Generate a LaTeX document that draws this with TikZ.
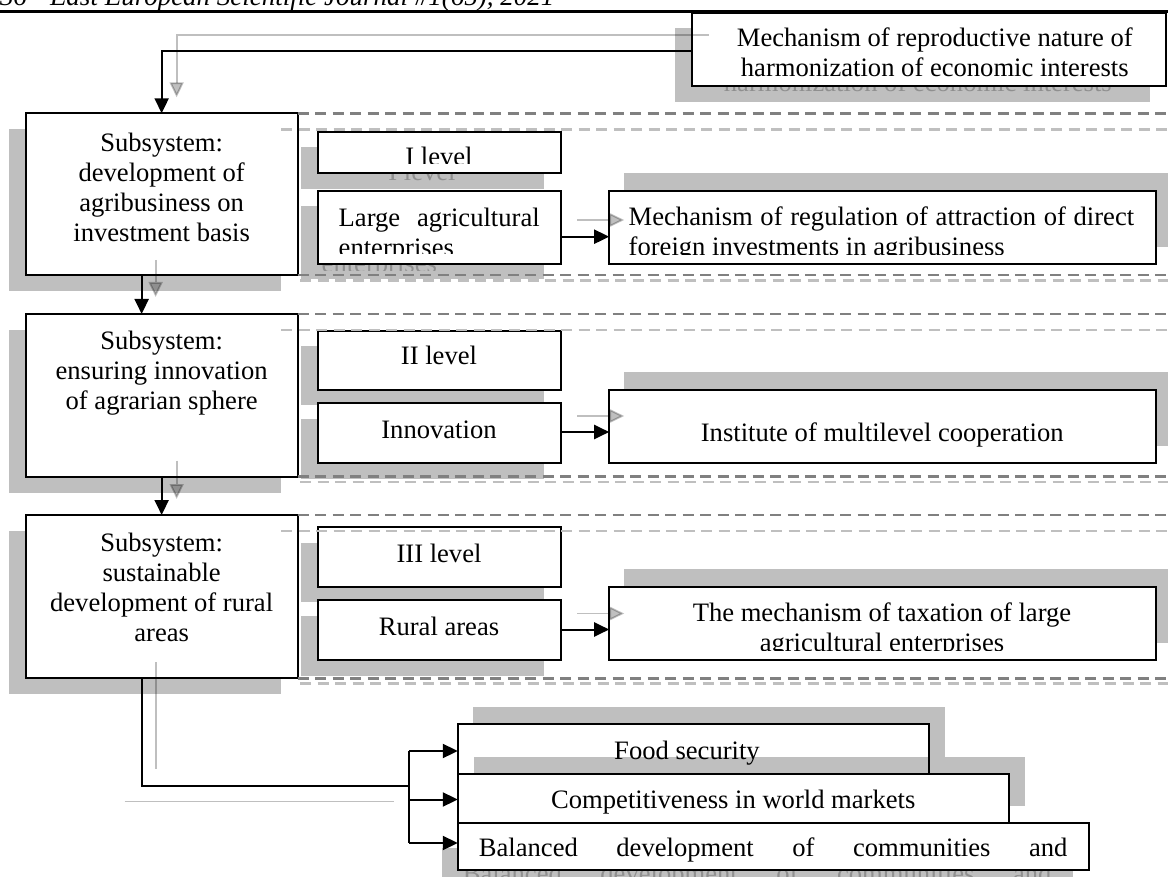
\documentclass[tikz,border=0pt]{standalone}
\usepackage{fontspec}
\setmainfont{Liberation Serif}
\usetikzlibrary{arrows.meta,calc}

\begin{document}
\begin{tikzpicture}[x=1pt,y=-1pt,
  every node/.style={inner sep=0pt, outer sep=0pt},
  box/.style={rectangle, draw=black, line width=2pt, fill=white, anchor=north west},
  shade/.style={fill=black, fill opacity=0.25},
  txt/.style={anchor=base, font=\fontsize{26.6}{30}\selectfont},
  ghosttxt/.style={txt, text opacity=0.25},
  hdr/.style={anchor=base west, font=\fontsize{27}{30}\selectfont\itshape},
  link/.style={draw=black, line width=2pt},
  linkghost/.style={draw=black, line width=1.8pt, opacity=0.25},
  tip/.style={-{Triangle[length=15pt,width=14pt]}},
  dashdark/.style={draw=black!50, line width=2.5pt, dash pattern=on 11pt off 6.5pt},
  dashlight/.style={draw=black!25, line width=2.5pt, dash pattern=on 11pt off 6.5pt},
]
\useasboundingbox (0,0) rectangle (1168,877);
\begin{scope}
\clip (0,0) rectangle (1168,877);

% running head
\node[hdr] (pageno) at (0,5.5) {36};
\node[hdr] (journal) at (50,5.5) {East European Scientific Journal \#1(65), 2021};
\draw[line width=2.5pt] (0,11.7) -- (1168,11.7);

% ---- top right: mechanism box
\fill[shade] (675.4,28.3) rectangle (1150,101.7);
\begin{scope}\clip (675.4,28.3) rectangle (1150,92.7);
  \node[ghosttxt] (trghost) at (917.8,91.7) {harmonization of economic interests};
\end{scope}
\node[box, minimum width=473.6, minimum height=72.4] (tr) at (692.4,13.3) {};
\begin{scope}\clip (692.4,13.3) rectangle (1166,76.5);
  \node[txt] (trtext) at (934.8,46.7) {\parbox[t]{460pt}{\centering Mechanism of reproductive nature of\\harmonization of economic interests}};
\end{scope}

% ---- subsystems
\fill[shade] (8.6,129.3) rectangle (280.7,291);
\node[box, minimum width=272.1, minimum height=161.7] (s1) at (25.6,113.3) {};
\node[txt] (s1text) at (161.65,151.7) {\parbox[t]{260pt}{\centering Subsystem:\\development of\\agribusiness on\\investment basis}};

\fill[shade] (8.6,330) rectangle (280.7,492.7);
\node[box, minimum width=272.1, minimum height=162.7] (s2) at (25.6,314) {};
\node[txt] (s2text) at (161.65,350) {\parbox[t]{260pt}{\centering Subsystem:\\ensuring innovation\\of agrarian sphere}};

\fill[shade] (8.6,531) rectangle (280.7,694.3);
\node[box, minimum width=272.1, minimum height=163.3] (s3) at (25.6,515) {};
\node[txt] (s3text) at (161.65,551.7) {\parbox[t]{260pt}{\centering Subsystem:\\sustainable\\development of rural\\areas}};

% ---- level boxes
\fill[shade] (300.6,147.2) rectangle (543.6,188.8);
\begin{scope}\clip (300.6,147.2) rectangle (543.6,181);
  \node[ghosttxt] (l1aghost) at (422,181) {I level};
\end{scope}
\node[box, minimum width=243, minimum height=41.6] (l1a) at (317.6,131.7) {};
\begin{scope}\clip (317.6,131.7) rectangle (560.6,163.8);
  \node[txt] (l1atext) at (439,165.5) {I level};
\end{scope}

\fill[shade] (300.6,206.2) rectangle (543.6,279.5);
\begin{scope}\clip (300.6,206.2) rectangle (543.6,271);
  \node[ghosttxt, anchor=base west] (l1bghost) at (321.7,272.2) {enterprises};
\end{scope}
\node[box, minimum width=243, minimum height=73.3] (l1b) at (317.6,190.7) {};
\begin{scope}\clip (317.6,190.7) rectangle (560.6,254);
  \node[txt] (l1btext) at (439.2,226.7) {\parbox[t]{201pt}{\makebox[201pt][s]{Large agricultural}\\enterprises}};
\end{scope}

\fill[shade] (300.6,346.2) rectangle (543.6,405.5);
\node[box, minimum width=243, minimum height=59.3] (l2a) at (317.6,330.7) {};
\node[txt] (l2atext) at (439,365) {II level};

\fill[shade] (300.6,418.8) rectangle (543.6,478.8);
\node[box, minimum width=243, minimum height=60] (l2b) at (317.6,403.3) {};
\node[txt] (l2btext) at (439,438.3) {Innovation};

\fill[shade] (300.6,542.8) rectangle (543.6,602.2);
\node[box, minimum width=243, minimum height=59.4] (l3a) at (317.6,527.3) {};
\node[txt] (l3atext) at (439,562.3) {III level};

\fill[shade] (300.6,615.5) rectangle (543.6,675.5);
\node[box, minimum width=243, minimum height=60] (l3b) at (317.6,600) {};
\node[txt] (l3btext) at (439,635) {Rural areas};

% ---- mechanisms on the right
\fill[shade] (624.2,173.2) rectangle (1171.3,246.8);
\node[box, minimum width=547.1, minimum height=73.6] (r1) at (609.2,190.7) {};
\begin{scope}\clip (609.2,190.7) rectangle (1156.3,254.8);
  \node[txt] (r1text) at (881.45,226) {\parbox[t]{505.5pt}{\makebox[505.5pt][s]{Mechanism of regulation of attraction of direct}\\foreign investments in agribusiness}};
\end{scope}

\fill[shade] (624.2,372.5) rectangle (1171.3,445.8);
\node[box, minimum width=547.1, minimum height=73.3] (r2) at (609.2,390) {};
\node[txt] (r2text) at (882.2,441) {Institute of multilevel cooperation};

\fill[shade] (624.2,569.2) rectangle (1171.3,642.5);
\node[box, minimum width=547.1, minimum height=73.3] (r3) at (609.2,586.7) {};
\begin{scope}\clip (609.2,586.7) rectangle (1156.3,650.5);
  \node[txt] (r3text) at (882,621.7) {\parbox[t]{520pt}{\centering The mechanism of taxation of large\\agricultural enterprises}};
\end{scope}

% ---- outcomes
\fill[shade] (473.3,707) rectangle (944.5,757.3);
\node[box, minimum width=471.2, minimum height=50.3] (fs) at (457.8,724) {};
\node[txt] (fstext) at (687,759.3) {Food security};

\fill[shade] (473.8,757.3) rectangle (1024.7,805.7);
\node[box, minimum width=550.9, minimum height=48.4] (cw) at (457.8,774.3) {};
\node[txt] (cwtext) at (733.3,808.3) {Competitiveness in world markets};

\fill[shade] (441.8,848.3) rectangle (1073.1,895.6);
\node[ghosttxt] (bdghost) at (757.15,882.3) {\makebox[588.5pt][s]{Balanced development of communities and}};
\node[box, minimum width=631.3, minimum height=47.3] (bd) at (457.8,822.7) {};
\node[txt] (bdtext) at (773.15,856.7) {\makebox[588.5pt][s]{Balanced development of communities and}};

% ---- dashed level frames
\foreach \t/\b in {113.3/275, 314/476.7, 515/678.3} {
  \draw[dashdark] (297.7,\t) -- (1168,\t);
  \draw[dashdark] (297.7,\b) -- (1168,\b);
  \draw[dashlight] (281,{\t+16}) -- (1168,{\t+16});
  \draw[dashlight] (300,{\b+5.3}) -- (1168,{\b+5.3});
}

% ---- connectors
\coordinate (topIn) at (tr.west |- 0,51);
\draw[link,tip] (topIn) -| (s1.north);
\draw[linkghost,tip] ($(topIn)+(16.3,-16)$) -| ($(s1.north)+(15,-16)$);

\draw[link,tip] ($(s1.south)+(-20,0)$) -- ($(s2.north)+(-20,0)$);
\draw[linkghost,tip] ($(s1.south)+(-6,-15)$) -- ($(s2.north)+(-6,-17)$);
\draw[link,tip] (s2.south) -- (s3.north);
\draw[linkghost,tip] ($(s2.south)+(15,-16)$) -- ($(s3.north)+(15,-16)$);

\draw[link,tip] (l1b.east |- 0,236.7) -- (r1.west |- 0,236.7);
\draw[linkghost,tip] ($(l1b.east |- 0,220)+(16.4,0)$) -- ($(r1.west |- 0,220)+(15,0)$);
\draw[link,tip] (l2b.east |- 0,432) -- (r2.west |- 0,432);
\draw[linkghost,tip] ($(l2b.east |- 0,416)+(16.4,0)$) -- ($(r2.west |- 0,416)+(15,0)$);
\draw[link,tip] (l3b.east |- 0,629.5) -- (r3.west |- 0,629.5);
\draw[linkghost,tip] ($(l3b.east |- 0,613.5)+(16.4,0)$) -- ($(r3.west |- 0,613.5)+(15,0)$);

\coordinate (hub) at (409.2,786);
\draw[link] ($(s3.south)+(-20,0)$) |- (hub);
\draw[link] (hub |- 0,751) -- (hub |- 0,843);
\draw[link,tip] (hub |- 0,751) -- (fs.west |- 0,751);
\draw[link,tip] (hub |- 0,799.5) -- (cw.west |- 0,799.5);
\draw[link,tip] (hub |- 0,843) -- (bd.west |- 0,843);
\draw[linkghost] ($(s3.south)+(-5.5,-16)$) -- ++(0,107);
\draw[linkghost] ($(hub)+(-284.7,15.5)$) -- ($(hub)+(-15.7,15.5)$);
\end{scope}
\end{tikzpicture}
\end{document}
